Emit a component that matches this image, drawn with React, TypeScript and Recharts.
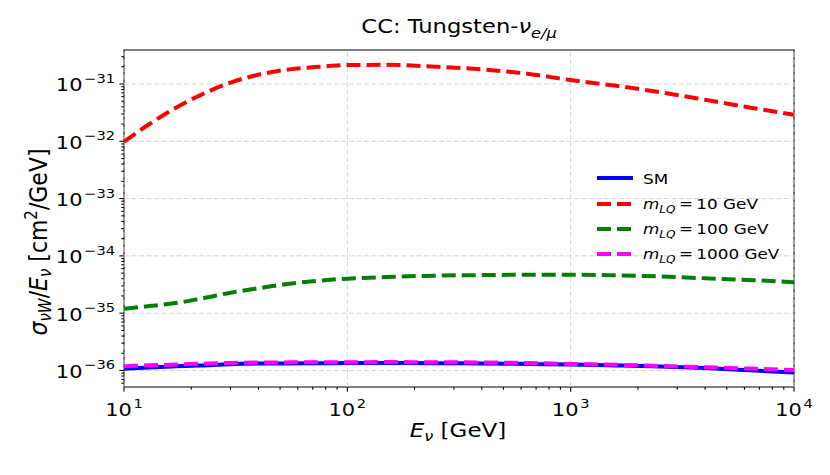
import { LineChart, Line, XAxis, YAxis, ReferenceLine, ReferenceArea, Legend } from 'recharts'

// neutrino energy [GeV] and sigma/E [cm^2/GeV]
const energies = [10, 13, 17, 22, 30, 40, 55, 75, 100, 150, 250, 400, 650, 1000, 1600, 2500, 4000, 6300, 10000]
const smValues = [
  1.07e-36, 1.13e-36, 1.18e-36, 1.225e-36, 1.29e-36, 1.32e-36, 1.33e-36, 1.34e-36, 1.35e-36, 1.35e-36,
  1.34e-36, 1.33e-36, 1.3e-36, 1.27e-36, 1.225e-36, 1.175e-36, 1.1e-36, 1.01e-36, 9.2e-37,
]
const lq10Values = [
  9.8e-33, 2.0e-32, 3.8e-32, 6.4e-32, 1.06e-31, 1.45e-31, 1.8e-31, 2.0e-31, 2.14e-31, 2.16e-31,
  2.0e-31, 1.8e-31, 1.5e-31, 1.17e-31, 9.3e-32, 7.2e-32, 5.3e-32, 3.9e-32, 2.9e-32,
]
const lq100Values = [
  1.2e-35, 1.33e-35, 1.5e-35, 1.79e-35, 2.28e-35, 2.72e-35, 3.27e-35, 3.7e-35, 4.01e-35, 4.28e-35,
  4.52e-35, 4.62e-35, 4.68e-35, 4.68e-35, 4.57e-35, 4.37e-35, 4.07e-35, 3.8e-35, 3.47e-35,
]
const lq1000Values = [
  1.19e-36, 1.23e-36, 1.27e-36, 1.31e-36, 1.355e-36, 1.374e-36, 1.387e-36, 1.393e-36, 1.396e-36, 1.4e-36,
  1.396e-36, 1.38e-36, 1.35e-36, 1.3e-36, 1.26e-36, 1.2e-36, 1.14e-36, 1.08e-36, 1.02e-36,
]

const xMajorTicks = [10, 100, 1000, 10000]
const yMajorTicks = [1e-36, 1e-35, 1e-34, 1e-33, 1e-32, 1e-31]
const lqMasses = ['10', '100', '1000']

const xDomain = [10, 10000]
const yDomain = [5.15e-37, 3.92e-31]

const FONT = '"DejaVu Sans", sans-serif'
const SX = 1.15 // the reference is a bit wider than tall

const data = energies.map((E, i) => ({
  E,
  sm: smValues[i],
  lq10: lq10Values[i],
  lq100: lq100Values[i],
  lq1000: lq1000Values[i],
}))

const series = [
  { key: 'sm', color: '#0000ff', dash: undefined as string | undefined, mass: null as string | null },
  { key: 'lq10', color: '#ff0000', dash: '14 6', mass: lqMasses[0] },
  { key: 'lq100', color: '#008000', dash: '14 6', mass: lqMasses[1] },
  { key: 'lq1000', color: '#ff00ff', dash: '14 6', mass: lqMasses[2] },
]

// minor ticks 2..9 in each decade, clipped to the domain
const withMinor = (majors: number[], lo: number, hi: number) => {
  const out: number[] = []
  const first = majors[0] / 10
  for (let d = first; d <= majors[majors.length - 1] * 1.0001; d *= 10) {
    for (let k = 1; k <= 9; k++) {
      const v = d * k
      if (v >= lo * 0.9999 && v <= hi * 1.0001) out.push(v)
    }
  }
  return out
}

const xTicks = withMinor(xMajorTicks, xDomain[0], xDomain[1])
const yTicks = withMinor(yMajorTicks, yDomain[0], yDomain[1])

const isMajor = (v: number) => {
  const l = Math.log10(v)
  return Math.abs(l - Math.round(l)) < 1e-6
}

const expLabel = (v: number) => {
  const e = Math.round(Math.log10(v))
  return e < 0 ? '\u2212' + String(-e) : String(e)
}

const PowerLabel = ({ x, y, anchor, value }: { x: number; y: number; anchor: string; value: number }) => (
  <text
    transform={`translate(${x} ${y}) scale(${SX} 1)`}
    textAnchor={anchor}
    fontSize={18.2}
    fontFamily={FONT}
    fill="#000"
  >
    10<tspan dx={1.5} dy={-8.5} fontSize={12.7}>{expLabel(value)}</tspan>
  </text>
)

const YTick = (props: any) => {
  const { x, y, payload } = props
  const major = isMajor(payload.value)
  return (
    <g>
      <line x1={x} x2={x - (major ? 4.7 : 2.7)} y1={y} y2={y} stroke="#000" strokeWidth={1.07} />
      {major && <PowerLabel x={x - 9} y={y + 7.5} anchor="end" value={payload.value} />}
    </g>
  )
}

const XTick = (props: any) => {
  const { x, y, payload } = props
  const major = isMajor(payload.value)
  return (
    <g>
      <line x1={x} x2={x} y1={y} y2={y + (major ? 4.7 : 2.7)} stroke="#000" strokeWidth={1.07} />
      {major && <PowerLabel x={x} y={y + 29} anchor="middle" value={payload.value} />}
    </g>
  )
}

const LegendBox = () => (
  <div style={{ fontFamily: FONT, fontSize: 14.6, color: '#000', lineHeight: '25.3px' }}>
    {series.map((s) => (
      <div key={s.key} style={{ display: 'flex', alignItems: 'center', height: 25.3 }}>
        <svg width={36} height={8} style={{ flex: 'none' }}>
          <line x1={0} x2={36} y1={4} y2={4} stroke={s.color} strokeWidth={4} strokeDasharray={s.dash} />
        </svg>
        <span
          style={{
            marginLeft: 10,
            whiteSpace: 'nowrap',
            display: 'inline-block',
            transform: `scaleX(${SX})`,
            transformOrigin: 'left center',
          }}
        >
          {s.mass === null ? (
            'SM'
          ) : (
            <>
              <i>m</i>
              <sub style={{ fontSize: 10.5, fontStyle: 'italic', lineHeight: 0 }}>LQ</sub>
              {'\u2009=\u2009' + s.mass + ' GeV'}
            </>
          )}
        </span>
      </div>
    ))}
  </div>
)

export default function App() {
  return (
    <div style={{ position: 'absolute', left: 0, top: 0, width: 830, height: 475, background: '#fff' }}>
      <LineChart width={830} height={475} data={data} margin={{ top: 50, right: 36, bottom: 0, left: 0 }}>
        <XAxis
          dataKey="E"
          type="number"
          scale="log"
          domain={xDomain}
          allowDataOverflow
          ticks={xTicks}
          interval={0}
          tick={<XTick />}
          tickLine={false}
          axisLine={false}
          tickSize={0}
          tickMargin={0}
          height={88}
        />
        <YAxis
          type="number"
          scale="log"
          domain={yDomain}
          allowDataOverflow
          ticks={yTicks}
          interval={0}
          tick={<YTick />}
          tickLine={false}
          axisLine={false}
          tickSize={0}
          tickMargin={0}
          width={124}
        />
        {xMajorTicks.map((v) => (
          <ReferenceLine key={'gx' + v} x={v} stroke="#d4d4d4" strokeWidth={1} strokeDasharray="5 2.5" />
        ))}
        {yMajorTicks.map((v) => (
          <ReferenceLine key={'gy' + v} y={v} stroke="#d4d4d4" strokeWidth={1} strokeDasharray="5 2.5" />
        ))}
        {series.map((s) => (
          <Line
            key={s.key}
            dataKey={s.key}
            type="monotone"
            stroke={s.color}
            strokeWidth={4}
            strokeDasharray={s.dash}
            dot={false}
            isAnimationActive={false}
          />
        ))}
        <ReferenceArea
          x1={xDomain[0]}
          x2={xDomain[1]}
          y1={yDomain[0]}
          y2={yDomain[1]}
          fill="none"
          fillOpacity={0}
          stroke="#000"
          strokeWidth={1.1}
        />
        <Legend
          layout="vertical"
          align="center"
          verticalAlign="middle"
          wrapperStyle={{ left: 597, top: 165.6, width: 200 }}
          content={() => <LegendBox />}
        />
      </LineChart>
      <svg
        width={830}
        height={475}
        style={{ position: 'absolute', left: 0, top: 0, pointerEvents: 'none' }}
        fontFamily={FONT}
      >
        <text transform={`translate(459 33) scale(${SX} 1)`} textAnchor="middle" fontSize={19.7} fill="#000">
          CC: Tungsten-<tspan fontStyle="italic">ν</tspan>
          <tspan fontStyle="italic" fontSize={14} dy={4.5}>e/μ</tspan>
        </text>
        <text transform={`translate(458 437) scale(${SX} 1)`} textAnchor="middle" fontSize={20} fill="#000">
          <tspan fontStyle="italic">E</tspan>
          <tspan fontStyle="italic" fontSize={14} dy={4}>ν</tspan>
          <tspan dy={-4}>{'\u00a0[GeV]'}</tspan>
        </text>
        <text
          transform={`translate(46.5 242) scale(${SX} 1) rotate(-90)`}
          textAnchor="middle"
          fontSize={22}
          fill="#000"
        >
          <tspan fontStyle="italic">σ</tspan>
          <tspan fontStyle="italic" fontSize={15} dy={4}>νW</tspan>
          <tspan dy={-4}>/</tspan>
          <tspan fontStyle="italic">E</tspan>
          <tspan fontStyle="italic" fontSize={15} dy={4}>ν</tspan>
          <tspan dy={-4}>{'\u00a0[cm'}</tspan>
          <tspan fontSize={15} dy={-8.5}>2</tspan>
          <tspan dy={8.5}>/GeV]</tspan>
        </text>
      </svg>
    </div>
  )
}
